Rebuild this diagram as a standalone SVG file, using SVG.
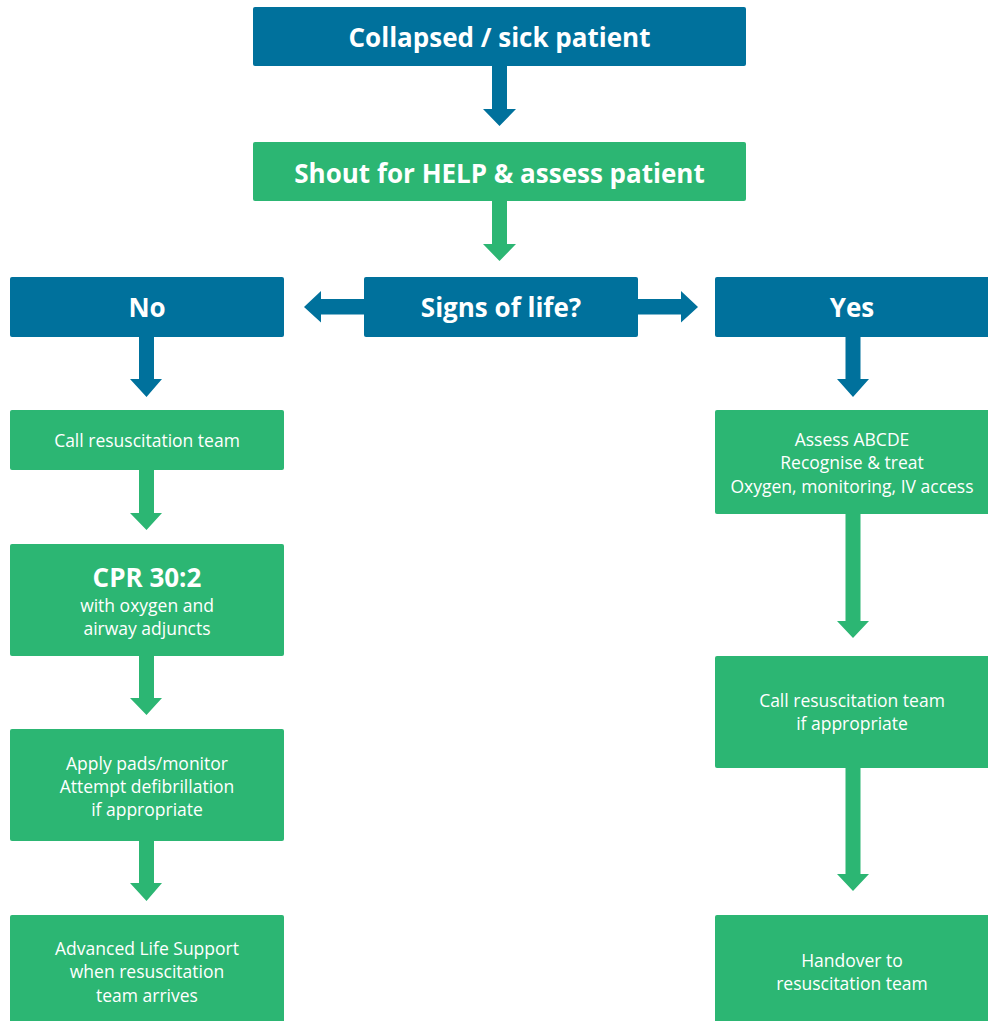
<svg xmlns="http://www.w3.org/2000/svg" width="988" height="1021" viewBox="0 0 988 1021">
<style>
.blue{fill:#00719c}
.green{fill:#2cb673}
.hb{font-family:"Open Sans","Liberation Sans",sans-serif;font-weight:bold;font-size:26px;fill:#fff;text-anchor:middle}
.t{font-family:"Open Sans","Liberation Sans",sans-serif;font-size:17.5px;fill:#fff;text-anchor:middle}
.cpr{font-family:"Open Sans","Liberation Sans",sans-serif;font-weight:bold;font-size:26px;fill:#fff;text-anchor:middle}
</style>
<rect width="988" height="1021" fill="#fff"/>
<g id="connectors">
<polygon class="blue" points="492,66 507,66 507,109 516,109 499.5,126 483,109 492,109"/>
<polygon class="green" points="492,201 507,201 507,244 516,244 499.5,261 483,244 492,244"/>
<polygon class="blue" points="364,299 321,299 321,291 304,307 321,322.5 321,314.5 364,314.5"/>
<polygon class="blue" points="638,299 681,299 681,291 698,307 681,322.5 681,314.5 638,314.5"/>
<polygon class="blue" points="139,337 154,337 154,379 162,379 146.5,397 130,379 139,379"/>
<polygon class="blue" points="845.5,337 860.5,337 860.5,379 869,379 853,397 837,379 845.5,379"/>
<polygon class="green" points="139,470 154,470 154,513 162,513 146.5,530 130,513 139,513"/>
<polygon class="green" points="139,656 154,656 154,698 162,698 146.5,715 130,698 139,698"/>
<polygon class="green" points="139,841 154,841 154,883 162,883 146.5,901 130,883 139,883"/>
<polygon class="green" points="845.5,514 860.5,514 860.5,621 869,621 853,638 837,621 845.5,621"/>
<polygon class="green" points="845.5,768 860.5,768 860.5,874 869,874 853,891 837,874 845.5,874"/>
</g>
<g id="collapsed">
<rect class="blue" x="253" y="7" width="493" height="59" rx="2"/>
<text class="hb" x="499.5" y="46.5">Collapsed / sick patient</text>
</g>
<g id="shout">
<rect class="green" x="253" y="142" width="493" height="59" rx="2"/>
<text class="hb" x="499.5" y="182.5">Shout for HELP &amp; assess patient</text>
</g>
<g id="signs">
<rect class="blue" x="364" y="277" width="274" height="60" rx="2"/>
<text class="hb" x="501" y="317">Signs of life?</text>
</g>
<g id="no">
<rect class="blue" x="10" y="277" width="274" height="60" rx="2"/>
<text class="hb" x="147" y="317">No</text>
</g>
<g id="yes">
<rect class="blue" x="715" y="277" width="276" height="60" rx="2"/>
<text class="hb" x="852" y="317">Yes</text>
</g>
<g id="call-left">
<rect class="green" x="10" y="410" width="274" height="60" rx="2"/>
<text class="t" x="147" y="446.5">Call resuscitation team</text>
</g>
<g id="cpr">
<rect class="green" x="10" y="544" width="274" height="112" rx="2"/>
<text class="cpr" x="147" y="586.5">CPR 30:2</text>
<text class="t" x="147" y="612">with oxygen and</text>
<text class="t" x="147" y="635">airway adjuncts</text>
</g>
<g id="pads">
<rect class="green" x="10" y="729" width="274" height="112" rx="2"/>
<text class="t" x="147" y="770">Apply pads/monitor</text>
<text class="t" x="147" y="793">Attempt defibrillation</text>
<text class="t" x="147" y="816">if appropriate</text>
</g>
<g id="als">
<rect class="green" x="10" y="915" width="274" height="110" rx="2"/>
<text class="t" x="147" y="954.5">Advanced Life Support</text>
<text class="t" x="147" y="978">when resuscitation</text>
<text class="t" x="147" y="1001.5">team arrives</text>
</g>
<g id="assess">
<rect class="green" x="715" y="410" width="276" height="104" rx="2"/>
<text class="t" x="852" y="446">Assess ABCDE</text>
<text class="t" x="852" y="469">Recognise &amp; treat</text>
<text class="t" x="852" y="492.5">Oxygen, monitoring, IV access</text>
</g>
<g id="call-right">
<rect class="green" x="715" y="656" width="276" height="112" rx="2"/>
<text class="t" x="852" y="706.5">Call resuscitation team</text>
<text class="t" x="852" y="730">if appropriate</text>
</g>
<g id="handover">
<rect class="green" x="715" y="915" width="276" height="110" rx="2"/>
<text class="t" x="852" y="967">Handover to</text>
<text class="t" x="852" y="990">resuscitation team</text>
</g>
</svg>
